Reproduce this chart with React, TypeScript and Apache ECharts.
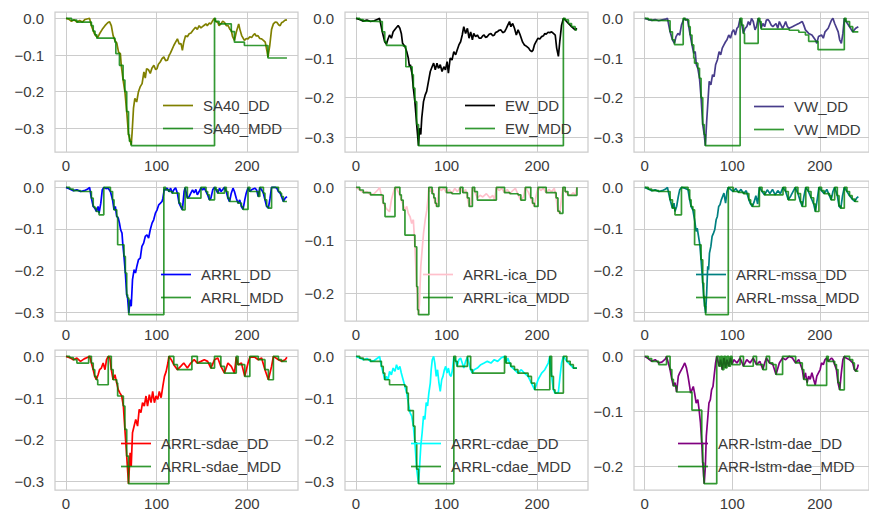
import React, { useEffect, useRef } from 'react';
import * as echarts from 'echarts';

type P = [number, number];

// ---------- data (x = period index, y = drawdown) ----------
const sa40DD: P[] = [[0,0],[3,-0.002],[6,-0.008],[9,-0.004],[12,-0.01],[15,-0.006],[18,-0.01],[21,-0.003],[24,-0.001],[26,0],[28,-0.02],[31,-0.04],[33,-0.048],[35,-0.052],[37,-0.042],[40,-0.03],[43,-0.02],[46,-0.012],[48,-0.009],[50,-0.02],[52,-0.047],[54,-0.06],[56,-0.067],[58,-0.092],[60,-0.096],[61,-0.128],[63,-0.168],[65,-0.2],[67,-0.254],[69,-0.317],[71,-0.335],[72,-0.345],[73,-0.31],[74.5,-0.245],[76,-0.218],[78,-0.228],[80,-0.2],[82,-0.186],[84,-0.178],[86,-0.146],[87.5,-0.163],[89,-0.137],[91,-0.14],[93,-0.15],[95,-0.135],[97,-0.128],[99,-0.14],[100.5,-0.137],[102,-0.125],[104,-0.119],[106,-0.11],[108,-0.105],[110,-0.115],[112,-0.114],[114,-0.1],[115,-0.096],[117,-0.085],[119,-0.074],[121,-0.065],[123,-0.056],[125,-0.07],[127,-0.069],[128.5,-0.087],[130,-0.065],[132,-0.047],[134,-0.05],[136,-0.042],[138,-0.04],[140,-0.033],[143,-0.024],[145,-0.03],[147,-0.02],[149,-0.026],[151,-0.022],[153,-0.018],[154.5,-0.015],[156,-0.02],[158,-0.013],[160,-0.015],[162,-0.006],[164,0],[165,-0.008],[167.6,-0.011],[169,-0.02],[171,-0.015],[173,-0.008],[175,-0.011],[177,-0.02],[179,-0.02],[181,-0.03],[182.5,-0.033],[184,-0.05],[186,-0.06],[188,-0.038],[190.7,-0.015],[192,-0.03],[194,-0.047],[197,-0.06],[199,-0.055],[201,-0.056],[203,-0.05],[205,-0.052],[207,-0.045],[208.5,-0.042],[210,-0.048],[212,-0.047],[214,-0.055],[216,-0.056],[218,-0.06],[220,-0.065],[222,-0.09],[223,-0.106],[225,-0.074],[227,-0.03],[229,-0.015],[231,-0.01],[233,-0.011],[235,-0.018],[236.5,-0.02],[238,-0.012],[240,-0.009],[242,-0.005],[244,-0.004]];
const sa40MDD: P[] = [[0,0],[6,-0.005],[12,-0.01],[28,-0.02],[30,-0.035],[32,-0.045],[34,-0.054],[52,-0.054],[54,-0.065],[55,-0.096],[59,-0.128],[63,-0.168],[65,-0.2],[67,-0.254],[69,-0.317],[70,-0.335],[72,-0.347],[164,0],[165,-0.008],[169,-0.015],[182.5,-0.036],[186,-0.065],[197,-0.074],[223,-0.108],[244,-0.108]];

const ewDD: P[] = [[0,0],[4,-0.003],[8,-0.007],[12,-0.004],[16,-0.008],[20,-0.006],[24,-0.002],[26,0],[29,-0.034],[31.7,-0.059],[33.5,-0.065],[35,-0.054],[37,-0.042],[39,-0.05],[41,-0.034],[44,-0.025],[46.5,-0.018],[48.4,-0.025],[50,-0.038],[51.4,-0.063],[54,-0.071],[56,-0.084],[57.7,-0.1],[59,-0.122],[60,-0.117],[62,-0.142],[63.3,-0.176],[65,-0.21],[67,-0.268],[69,-0.321],[70,-0.277],[71.5,-0.293],[72.6,-0.251],[74.5,-0.21],[76.4,-0.193],[78,-0.184],[80,-0.159],[82,-0.134],[84,-0.122],[85.7,-0.113],[87.5,-0.13],[89.4,-0.113],[91,-0.126],[93,-0.117],[95,-0.134],[97,-0.122],[98.7,-0.13],[100.6,-0.109],[102,-0.138],[104,-0.1],[106,-0.105],[108,-0.084],[110,-0.092],[111.7,-0.08],[113.6,-0.067],[115.5,-0.059],[117.3,-0.042],[119,-0.021],[121,-0.038],[123,-0.025],[124.8,-0.05],[126.6,-0.034],[128.5,-0.054],[130,-0.038],[132,-0.046],[134,-0.042],[136,-0.05],[138,-0.05],[140,-0.044],[141.5,-0.042],[143,-0.048],[145,-0.046],[147,-0.04],[149,-0.038],[151,-0.044],[152.7,-0.042],[154,-0.036],[156,-0.034],[158,-0.03],[160,-0.029],[162,-0.036],[164,-0.034],[166,-0.025],[167.6,-0.017],[169.5,-0.008],[171,-0.021],[173,-0.013],[175,-0.025],[177,-0.042],[179,-0.029],[181,-0.04],[182.5,-0.05],[184,-0.06],[186,-0.067],[188,-0.07],[190.7,-0.075],[192,-0.08],[194,-0.084],[195.5,-0.08],[197,-0.067],[199,-0.058],[201,-0.05],[203,-0.052],[205,-0.046],[207,-0.044],[208.5,-0.038],[210,-0.04],[212,-0.035],[214,-0.036],[216,-0.034],[218,-0.038],[220,-0.042],[221.6,-0.075],[223.5,-0.096],[225,-0.059],[227,-0.017],[229,0],[231,-0.004],[234.6,-0.013],[238,-0.021],[242,-0.029],[244,-0.025]];
const ewMDD: P[] = [[0,0],[4,-0.003],[8,-0.007],[16,-0.008],[29,-0.034],[31.7,-0.059],[33.5,-0.068],[52,-0.07],[55,-0.122],[62,-0.142],[63.3,-0.176],[65,-0.21],[67,-0.268],[69,-0.321],[229,0],[231,-0.004],[234.6,-0.013],[238,-0.021],[242,-0.029],[244,-0.029]];

const vwDD: P[] = [[0,0],[4,-0.003],[8,-0.005],[12,-0.003],[16,-0.006],[20,-0.004],[24,-0.002],[26,0],[29,-0.034],[31.7,-0.054],[34,-0.063],[35.8,-0.046],[38,-0.038],[40,-0.042],[42,-0.017],[45,0],[46.5,-0.004],[48.8,-0.002],[50.3,-0.021],[52,-0.042],[54,-0.067],[56,-0.088],[57.7,-0.084],[59,-0.117],[60.7,-0.126],[62.6,-0.151],[64.4,-0.2],[66.3,-0.268],[68,-0.293],[69.3,-0.321],[70.8,-0.26],[72,-0.218],[73.7,-0.159],[75.6,-0.168],[77.5,-0.142],[79.3,-0.147],[81,-0.117],[83,-0.105],[85,-0.084],[86.8,-0.092],[88.6,-0.075],[90.5,-0.067],[92.4,-0.059],[94,-0.054],[96,-0.042],[98,-0.05],[100,-0.034],[101.7,-0.029],[103.5,-0.042],[105.4,-0.025],[107,-0.021],[109,0],[111,-0.017],[112.8,-0.038],[114.7,-0.025],[116.6,-0.021],[118.4,-0.008],[120.3,-0.017],[122,0],[124,-0.008],[126,-0.029],[127.7,-0.021],[129.6,0],[131.5,-0.008],[133,-0.025],[135,-0.013],[137,-0.021],[139,-0.004],[140.8,-0.003],[142.6,-0.008],[144.5,-0.017],[146.4,-0.021],[150,-0.013],[152,-0.025],[153.8,-0.008],[157.5,-0.025],[159.4,-0.017],[161,-0.008],[163,-0.021],[165,-0.025],[168.7,-0.021],[172.4,-0.017],[176,-0.013],[180,-0.008],[181.7,-0.017],[183.6,-0.029],[187.3,-0.038],[191,-0.042],[194.8,-0.054],[196.6,-0.063],[198.5,-0.046],[202,-0.042],[204,-0.05],[206,-0.034],[209.6,-0.025],[213.4,-0.004],[215,0],[217,-0.013],[221,-0.034],[222.7,-0.054],[224.6,-0.063],[226.4,-0.038],[228,0],[230,-0.008],[234,-0.021],[237.6,-0.034],[241,-0.025],[244,-0.021]];
const vwMDD: P[] = [[0,0],[4,-0.003],[8,-0.005],[16,-0.006],[29,-0.034],[31.7,-0.054],[34,-0.066],[44,0],[46.5,-0.004],[50.3,-0.021],[52,-0.042],[54,-0.067],[56,-0.1],[57,-0.113],[60.7,-0.126],[62.6,-0.151],[64.4,-0.2],[66.3,-0.268],[68,-0.293],[69.3,-0.321],[109,0],[111,-0.017],[112.8,-0.038],[114,-0.063],[129.6,0],[131.5,-0.008],[133,-0.027],[165,-0.03],[176,-0.035],[183.6,-0.042],[187.3,-0.058],[198,-0.079],[228,0],[230,-0.008],[234,-0.021],[237.6,-0.034],[244,-0.034]];

const arrlDD: P[] = [[0,0],[4,-0.004],[8,-0.008],[12,-0.006],[16,-0.01],[20,-0.008],[24,-0.004],[26,0],[28,-0.026],[30,-0.046],[31.7,-0.05],[33.5,-0.058],[35.4,-0.046],[36.5,-0.062],[38.4,-0.038],[40,-0.006],[41.7,0],[44,-0.003],[46.5,-0.002],[49,-0.01],[51.4,-0.03],[53,-0.054],[54.4,-0.046],[56,-0.07],[57.7,-0.074],[59,-0.086],[60.3,-0.102],[61.8,-0.11],[62.6,-0.134],[64,-0.166],[65.5,-0.206],[67,-0.258],[68,-0.266],[69.3,-0.302],[70.8,-0.27],[72,-0.286],[73.4,-0.222],[75.2,-0.198],[76.7,-0.206],[78.2,-0.19],[80,-0.174],[82,-0.17],[83.8,-0.142],[85.7,-0.134],[87.5,-0.118],[89.4,-0.114],[91.2,-0.122],[93,-0.102],[95,-0.086],[96.8,-0.078],[98.7,-0.062],[100.6,-0.054],[102.4,-0.042],[104.3,-0.038],[106,-0.034],[107,-0.026],[108.5,-0.004],[110,-0.006],[111.7,-0.002],[113.6,-0.01],[115.5,-0.002],[117.3,-0.014],[119,-0.006],[121,-0.001],[123,-0.014],[124.8,-0.038],[126.6,-0.046],[128.5,-0.054],[130.4,-0.01],[131.5,-0.001],[134,-0.026],[136,-0.022],[137.8,-0.014],[139.7,-0.006],[141.5,-0.013],[143.4,-0.005],[145,-0.018],[147,-0.01],[149,-0.001],[150.8,-0.006],[152.7,-0.002],[154.6,-0.01],[156.4,-0.018],[158.3,-0.03],[160,-0.026],[162,-0.006],[164,0],[165.7,-0.006],[167.6,-0.014],[169.5,-0.002],[171.3,-0.01],[173,-0.005],[175,0],[177,-0.01],[178.8,-0.026],[180.6,-0.034],[182.5,-0.014],[184.4,-0.002],[186,-0.01],[188,-0.026],[190,-0.038],[191.8,-0.03],[193.7,-0.046],[195.5,-0.053],[197.4,-0.03],[199,-0.014],[201,-0.001],[203,-0.01],[204.8,-0.006],[208.5,-0.002],[210.4,-0.006],[212.3,-0.022],[214,0],[216,-0.006],[218,-0.014],[219.7,-0.03],[221.6,-0.046],[223.5,-0.05],[225.3,-0.026],[227,0],[231,0],[232.8,-0.002],[234.6,-0.01],[236.5,-0.014],[238,-0.022],[240,-0.034],[242,-0.026],[244,-0.022]];
const arrlMDD: P[] = [[0,0],[4,-0.004],[8,-0.008],[16,-0.01],[28,-0.026],[30,-0.046],[31.7,-0.05],[33.5,-0.058],[36.5,-0.066],[41.7,0],[49,-0.01],[51.4,-0.03],[53,-0.054],[56,-0.07],[57,-0.138],[64,-0.166],[65.5,-0.206],[67,-0.258],[68,-0.266],[69.3,-0.306],[108,0],[110,-0.006],[113.6,-0.01],[117.3,-0.014],[124.8,-0.038],[126.6,-0.046],[128.5,-0.054],[131.5,0],[134,-0.026],[149,0],[154.6,-0.01],[156.4,-0.018],[158.3,-0.03],[164,0],[165.7,-0.006],[167.6,-0.014],[175,0],[177,-0.01],[178.8,-0.026],[180.6,-0.034],[190,-0.038],[193.7,-0.046],[195.5,-0.053],[201,0],[203,-0.01],[212.3,-0.022],[214,0],[218,-0.014],[219.7,-0.03],[221.6,-0.046],[223.5,-0.05],[227,0],[234.6,-0.01],[236.5,-0.014],[238,-0.022],[240,-0.034],[244,-0.034]];

const icaDD: P[] = [[0,0],[4,-0.005],[8,-0.01],[12,-0.008],[16,-0.014],[20,-0.012],[24,-0.005],[26,0],[28,-0.015],[30,-0.03],[33.5,-0.04],[37,-0.046],[39,-0.024],[41,-0.011],[43,0],[44.7,-0.002],[48.4,-0.014],[50,-0.024],[52,-0.033],[54,-0.043],[56,-0.036],[57.7,-0.049],[59.6,-0.055],[61.5,-0.068],[63.3,-0.061],[65,-0.112],[67,-0.187],[68,-0.209],[69,-0.24],[70,-0.22],[71.5,-0.149],[73,-0.118],[74.5,-0.087],[76.4,-0.061],[78.2,-0.043],[79.3,-0.024],[80.4,0],[82,-0.008],[83,-0.002],[84,-0.012],[85,-0.004],[86,-0.02],[87.5,-0.03],[89,-0.036],[90.5,-0.02],[91.5,0],[94,-0.006],[97,-0.002],[100,-0.01],[103,-0.004],[106,-0.012],[109,-0.002],[112,-0.008],[115,0],[118,-0.01],[121,-0.004],[123,-0.02],[125,-0.036],[127,-0.03],[128.5,0],[131,-0.008],[134,-0.02],[137,-0.015],[140,-0.018],[144,-0.012],[148,-0.02],[151,-0.015],[153,-0.024],[155,0],[158,-0.006],[161,-0.002],[164,-0.01],[167,-0.004],[170,-0.012],[173,-0.006],[176,-0.002],[179,-0.014],[182,-0.024],[185,-0.018],[187,0],[190,-0.008],[193,-0.02],[195,-0.03],[197,-0.036],[199,-0.015],[201,0],[204,-0.006],[207,-0.002],[210,-0.01],[213,-0.004],[216,-0.008],[219,-0.002],[221,-0.02],[223,-0.045],[225,-0.049],[227,-0.02],[228.5,0],[231,-0.008],[234,-0.013],[237,-0.015],[240,-0.01],[242,-0.015],[244,0]];
const icaMDD: P[] = [[0,0],[4,-0.005],[8,-0.01],[16,-0.014],[28,-0.015],[30,-0.03],[32,-0.055],[43,0],[48.4,-0.014],[50,-0.024],[52,-0.043],[54,-0.09],[65,-0.112],[67,-0.187],[68,-0.231],[69,-0.24],[80.4,0],[84,-0.012],[86,-0.02],[87.5,-0.03],[89,-0.036],[91.5,0],[100,-0.01],[106,-0.012],[115,0],[118,-0.01],[123,-0.02],[125,-0.036],[128.5,0],[131,-0.008],[134,-0.024],[155,0],[164,-0.01],[170,-0.012],[179,-0.014],[182,-0.024],[187,0],[193,-0.02],[195,-0.03],[197,-0.036],[201,0],[210,-0.01],[221,-0.02],[223,-0.045],[225,-0.049],[228.5,0],[231,-0.008],[234,-0.015],[244,0]];

const mssaDD: P[] = [[0,0],[4,-0.004],[8,-0.008],[12,-0.006],[16,-0.01],[20,-0.008],[24,-0.004],[26,0],[29,-0.03],[31.7,-0.05],[33.5,-0.038],[34.6,-0.058],[36.5,-0.046],[38.4,-0.022],[40,-0.006],[42,0],[45.8,-0.002],[49.5,-0.006],[51.4,-0.03],[53,-0.046],[55,-0.054],[57,-0.078],[58.8,-0.106],[60,-0.098],[61.5,-0.118],[63,-0.138],[64.4,-0.174],[66.3,-0.23],[67.4,-0.262],[68.5,-0.286],[69.6,-0.302],[70.8,-0.254],[72,-0.19],[73,-0.198],[74,-0.158],[75.6,-0.142],[77,-0.118],[78.6,-0.11],[80,-0.102],[81.6,-0.078],[83,-0.07],[84.5,-0.046],[86,-0.042],[87.5,-0.03],[89,-0.022],[90.5,-0.014],[92.4,-0.038],[94,-0.01],[95.5,0],[98,-0.005],[101,-0.01],[104,-0.003],[107,-0.012],[110,-0.005],[113,-0.015],[116,-0.008],[119,-0.03],[121,-0.04],[123,-0.046],[125,-0.035],[127,-0.02],[129,-0.04],[131,0],[134,-0.01],[137,-0.018],[140,-0.006],[143,-0.015],[146,-0.005],[149,-0.018],[152,-0.008],[155,-0.015],[158,0],[161,-0.01],[164,-0.03],[167,-0.02],[170,-0.008],[172,0],[175,-0.015],[178,-0.035],[180,-0.046],[182,-0.02],[184,0],[187,-0.01],[190,-0.025],[193,-0.04],[195,-0.058],[197,-0.03],[199,0],[202,-0.008],[205,-0.015],[208,-0.005],[211,-0.02],[213,-0.03],[215,-0.01],[217,0],[220,-0.02],[222,-0.045],[224,-0.05],[226,-0.02],[228,0],[231,-0.01],[234,-0.02],[237,-0.028],[240,-0.034],[242,-0.026],[244,-0.022]];
const mssaMDD: P[] = [[0,0],[4,-0.004],[8,-0.008],[16,-0.01],[29,-0.03],[31.7,-0.05],[34.6,-0.066],[42,0],[49.5,-0.006],[51.4,-0.03],[53,-0.046],[55,-0.054],[57,-0.138],[64.4,-0.174],[66.3,-0.23],[67.4,-0.262],[68.5,-0.286],[69.6,-0.306],[95.5,0],[101,-0.01],[107,-0.012],[113,-0.015],[119,-0.03],[121,-0.04],[123,-0.046],[131,0],[134,-0.01],[137,-0.018],[158,0],[161,-0.01],[164,-0.03],[172,0],[175,-0.015],[178,-0.035],[180,-0.046],[184,0],[187,-0.01],[190,-0.025],[193,-0.04],[195,-0.058],[199,0],[202,-0.008],[205,-0.015],[211,-0.02],[213,-0.03],[217,0],[220,-0.02],[222,-0.045],[224,-0.05],[228,0],[231,-0.01],[234,-0.02],[237,-0.028],[240,-0.034],[244,-0.034]];

const sdaeDD: P[] = [[0,0],[4,-0.003],[8,-0.008],[12,-0.004],[16,-0.012],[20,-0.006],[24,-0.002],[26,0],[28,-0.016],[30,-0.032],[31.7,-0.048],[33.5,-0.056],[35.4,-0.044],[37,-0.032],[39,-0.028],[41,-0.016],[43,-0.032],[44.7,-0.008],[46.6,0],[48.4,-0.004],[50,-0.032],[52,-0.056],[54,-0.044],[56,-0.064],[57.7,-0.08],[59.6,-0.088],[61.5,-0.095],[63.3,-0.119],[65,-0.175],[67,-0.239],[69,-0.305],[70.8,-0.231],[72,-0.263],[73.4,-0.183],[75.2,-0.167],[77,-0.151],[79,-0.167],[80.8,-0.127],[82.7,-0.135],[84.5,-0.111],[86.4,-0.119],[88.3,-0.095],[90,-0.119],[92,-0.092],[93.9,-0.111],[95.7,-0.084],[97.6,-0.111],[99.4,-0.095],[101.3,-0.103],[103,-0.084],[105,-0.099],[106.9,-0.072],[108.7,-0.048],[110.6,-0.036],[112.5,-0.016],[113.6,0],[116.2,-0.008],[119,-0.02],[123,-0.032],[126.6,-0.024],[130,-0.016],[134,-0.028],[137.8,-0.016],[141.5,-0.008],[145,-0.016],[149,-0.012],[152.7,-0.008],[156.4,-0.012],[160,-0.028],[164,-0.008],[167.6,-0.004],[171,-0.024],[175,-0.04],[178.8,-0.016],[182.5,-0.024],[186,-0.04],[188,-0.002],[190,-0.02],[193.7,-0.016],[197.4,-0.048],[201,-0.016],[203,-0.002],[208.5,-0.002],[212.3,-0.008],[216,-0.004],[219.7,-0.032],[223.5,-0.056],[227,-0.024],[229,0],[234.6,-0.008],[238,-0.012],[242,-0.008],[244,-0.002]];
const sdaeMDD: P[] = [[0,0],[4,-0.003],[8,-0.008],[12,-0.016],[25,0],[28,-0.016],[30,-0.032],[31.7,-0.048],[33.5,-0.056],[35,-0.068],[46.6,0],[50,-0.032],[52,-0.056],[56,-0.064],[57,-0.095],[63.3,-0.119],[65,-0.175],[67,-0.239],[69,-0.305],[113.6,0],[119,-0.02],[123,-0.032],[139,0],[145,-0.016],[160,-0.028],[164,0],[171,-0.024],[175,-0.04],[188,0],[190,-0.02],[197.4,-0.048],[203,0],[212.3,-0.008],[219.7,-0.032],[223.5,-0.056],[229,0],[234.6,-0.008],[238,-0.012],[244,-0.012]];

const cdaeDD: P[] = [[0,0],[4,-0.004],[8,-0.008],[12,-0.005],[16,-0.012],[20,-0.01],[24,-0.004],[26,0],[28,-0.024],[30,-0.04],[31.7,-0.056],[33.5,-0.048],[35.4,-0.056],[37,-0.036],[39,-0.044],[41,-0.028],[43,-0.036],[44.7,-0.02],[46.6,-0.032],[48.4,-0.024],[50,-0.04],[52,-0.056],[54,-0.072],[56,-0.088],[57.7,-0.111],[59.6,-0.135],[61.5,-0.143],[63.3,-0.167],[65,-0.207],[67,-0.27],[69,-0.305],[70,-0.271],[71.5,-0.215],[73,-0.183],[74.5,-0.143],[76,-0.151],[77.5,-0.111],[79,-0.119],[80.4,-0.088],[82,-0.064],[83,-0.032],[84.2,-0.008],[85.7,0],[87,-0.016],[88.6,-0.048],[90,-0.032],[91.6,-0.064],[93,-0.084],[94.6,-0.056],[96,-0.048],[97.6,-0.032],[99,-0.024],[100.6,-0.04],[102,-0.028],[103.5,-0.044],[105,-0.048],[106.5,-0.032],[108,-0.002],[110,-0.012],[111.7,-0.024],[113.6,-0.008],[115.5,-0.004],[117.3,-0.016],[119,-0.028],[121,-0.012],[123,-0.002],[126.6,-0.032],[128.5,-0.04],[130.4,-0.032],[134,-0.028],[137.8,-0.02],[141.5,-0.016],[145,-0.012],[149,-0.016],[152.7,-0.008],[156.4,-0.012],[160,-0.004],[164,0],[165.7,-0.016],[167.6,-0.004],[171,-0.024],[175,-0.032],[178.8,-0.04],[182.5,-0.032],[186,-0.04],[190,-0.048],[193.7,-0.064],[197.4,-0.08],[201,-0.056],[205,-0.04],[208.5,-0.032],[212.3,-0.016],[214,0],[216,-0.048],[218,-0.08],[219.7,-0.088],[223.5,-0.086],[225.3,-0.048],[227,-0.016],[229,0],[232.8,-0.012],[236.5,-0.02],[240,-0.028],[244,-0.028]];
const cdaeMDD: P[] = [[0,0],[4,-0.004],[8,-0.008],[16,-0.012],[28,-0.024],[30,-0.04],[31.7,-0.056],[37,-0.068],[54,-0.072],[56,-0.088],[57.7,-0.13],[63.3,-0.167],[65,-0.207],[67,-0.27],[69,-0.305],[108,0],[110,-0.012],[111.7,-0.024],[123,0],[126.6,-0.032],[128.5,-0.04],[164,0],[165.7,-0.016],[171,-0.024],[175,-0.032],[178.8,-0.04],[190,-0.048],[193.7,-0.064],[197.4,-0.08],[214,0],[216,-0.048],[218,-0.08],[219.7,-0.088],[229,0],[232.8,-0.012],[236.5,-0.02],[240,-0.028],[244,-0.028]];

const lstmDD: P[] = [[0,0],[4,-0.004],[8,-0.009],[12,-0.006],[16,-0.012],[20,-0.01],[24,-0.004],[25,0],[29,-0.024],[31,-0.042],[32.8,-0.054],[34.6,-0.048],[36.5,-0.065],[38.4,-0.036],[40,-0.03],[42,-0.024],[44,-0.018],[45.8,-0.012],[47.7,-0.021],[49.5,-0.036],[51.4,-0.055],[52.5,-0.067],[54,-0.061],[55.5,-0.055],[57,-0.067],[58.8,-0.085],[60.7,-0.079],[62.2,-0.098],[63.7,-0.121],[65.2,-0.158],[66.3,-0.194],[67.4,-0.218],[68,-0.232],[69.3,-0.2],[70.4,-0.145],[71.9,-0.115],[73.4,-0.085],[75,-0.079],[76.4,-0.061],[78,-0.055],[79.3,-0.036],[81,-0.012],[82.3,0],[85,-0.018],[86.8,-0.006],[88.6,-0.024],[90.5,-0.003],[92.4,-0.021],[94,-0.006],[96,-0.018],[98,-0.003],[99.8,-0.015],[101.7,-0.006],[105.4,-0.012],[109,-0.003],[112.8,-0.018],[116.6,-0.006],[120.3,-0.012],[124,-0.003],[127.7,-0.015],[131.5,-0.009],[135,-0.024],[137,-0.012],[139,-0.003],[142.6,-0.012],[146.4,-0.015],[150,-0.033],[153.8,-0.012],[157.5,-0.003],[161,-0.006],[165,0],[168.7,-0.003],[172.4,-0.012],[176,-0.006],[180,-0.024],[181.7,-0.042],[183.6,-0.03],[185.5,-0.048],[187.3,-0.036],[189,-0.042],[191,-0.03],[193,-0.042],[194.8,-0.052],[196.6,-0.036],[198.5,-0.03],[200.4,-0.024],[202,-0.012],[204,-0.015],[206,-0.006],[207.8,-0.003],[209.6,-0.009],[213.4,-0.003],[215,-0.006],[217,-0.015],[219,-0.024],[220.8,-0.048],[222.7,-0.061],[224.6,-0.03],[226.4,-0.006],[228,0],[230,-0.003],[234,-0.006],[237.6,-0.012],[239.5,-0.024],[241,-0.027],[243,-0.021],[244,-0.015]];
const lstmMDD: P[] = [[0,0],[4,-0.004],[8,-0.009],[16,-0.015],[25,0],[29,-0.024],[31,-0.042],[32.8,-0.054],[36.5,-0.065],[54,-0.098],[65.2,-0.158],[66.3,-0.194],[67.4,-0.218],[68,-0.232],[82.3,0],[85,-0.018],[86.8,0],[88.6,-0.024],[90.5,0],[92.4,-0.021],[94,0],[96,-0.018],[98,0],[99.8,-0.015],[109,0],[112.8,-0.018],[124,0],[127.7,-0.015],[135,-0.024],[139,0],[142.6,-0.012],[146.4,-0.015],[150,-0.033],[157.5,0],[172.4,-0.012],[180,-0.024],[181.7,-0.042],[185.5,-0.053],[207.8,0],[209.6,-0.009],[217,-0.015],[219,-0.024],[220.8,-0.048],[222.7,-0.061],[228,0],[234,-0.006],[237.6,-0.012],[239.5,-0.024],[241,-0.027],[244,-0.027]];

const ddNames = ['SA40_DD', 'EW_DD', 'VW_DD', 'ARRL_DD', 'ARRL-ica_DD', 'ARRL-mssa_DD', 'ARRL-sdae_DD', 'ARRL-cdae_DD', 'ARR-lstm-dae_DD'];
const mddNames = ['SA40_MDD', 'EW_MDD', 'VW_MDD', 'ARRL_MDD', 'ARRL-ica_MDD', 'ARRL-mssa_MDD', 'ARRL-sdae_MDD', 'ARRL-cdae_MDD', 'ARR-lstm-dae_MDD'];
const ddSeries = [sa40DD, ewDD, vwDD, arrlDD, icaDD, mssaDD, sdaeDD, cdaeDD, lstmDD];
const mddSeries = [sa40MDD, ewMDD, vwMDD, arrlMDD, icaMDD, mssaMDD, sdaeMDD, cdaeMDD, lstmMDD];
const xTicks = [0, 100, 200];

// ---------- styling / layout ----------
const ddColors = ['#808000', '#000000', '#483d8b', '#0000ff', '#ffc0cb', '#008080', '#ff0000', '#00ffff', '#800080'];
const mddColor = 'rgba(0,128,0,0.8)';
const colLeft = [55, 345, 634];
const rowTop = [12, 181, 350];
const plotW = 243;
const plotH = 140;
const legendLeft = [163, 465, 754, 161, 423, 696, 121, 411, 678];
const legendTop = [94, 94, 95, 263, 263, 263, 432, 432, 432];
const FONT = "'Liberation Sans', Arial, sans-serif";
const TEXT = '#3a3a3a';
const GRIDC = '#cccccc';

function toSteps(pts: P[]): P[] {
  const out: P[] = [pts[0]];
  for (let i = 1; i < pts.length; i++) {
    out.push([pts[i][0], pts[i - 1][1]]);
    out.push(pts[i]);
  }
  return out;
}

function fmtY(v: number): string {
  if (Math.abs(v) < 1e-9) return '0.0';
  return (v < 0 ? '\u2212' : '') + Math.abs(v).toFixed(1);
}

export default function App() {
  const ref = useRef<HTMLDivElement>(null);
  useEffect(() => {
    document.body.style.margin = '0';
    if (!ref.current) return;
    const chart = echarts.init(ref.current, undefined, { renderer: 'svg' });

    const grids: any[] = [];
    const xAxes: any[] = [];
    const yAxes: any[] = [];
    const series: any[] = [];
    const legends: any[] = [];

    for (let i = 0; i < 9; i++) {
      const r = Math.floor(i / 3);
      const c = i % 3;
      grids.push({
        left: colLeft[c], top: rowTop[r], width: plotW, height: plotH,
        show: true, borderColor: GRIDC, borderWidth: 1.25, backgroundColor: '#ffffff',
      });
      const allX = ddSeries[i].map((p) => p[0]);
      const xLo = Math.min(...allX);
      const xHi = Math.max(...allX);
      const xPad = (xHi - xLo) * 0.05;
      xAxes.push({
        type: 'value', gridIndex: i, min: xLo - xPad, max: xHi + xPad,
        axisLine: { show: false },
        axisTick: { show: false, customValues: xTicks },
        axisLabel: { customValues: xTicks, margin: 6, fontSize: 15, color: TEXT, fontFamily: FONT },
        splitLine: { show: true, lineStyle: { color: GRIDC, width: 1 } },
      });
      const allY = ddSeries[i].map((p) => p[1]).concat(mddSeries[i].map((p) => p[1]));
      const yLo = Math.min(...allY);
      const yHi = Math.max(...allY);
      const yPad = (yHi - yLo) * 0.05;
      const yTicks: number[] = [];
      for (let k = 0; -k * 0.1 >= yLo - yPad - 1e-9; k++) yTicks.push(-k / 10);
      yAxes.push({
        type: 'value', gridIndex: i, min: yLo - yPad, max: yHi + yPad,
        axisLine: { show: false },
        axisTick: { show: false, customValues: yTicks },
        axisLabel: { customValues: yTicks, margin: 11, fontSize: 15, color: TEXT, fontFamily: FONT, formatter: fmtY },
        splitLine: { show: true, lineStyle: { color: GRIDC, width: 1 } },
      });
      series.push({
        type: 'line', name: ddNames[i], xAxisIndex: i, yAxisIndex: i,
        data: ddSeries[i], showSymbol: false, symbol: 'none',
        lineStyle: { width: 1.7, color: ddColors[i] }, itemStyle: { color: ddColors[i] },
        z: 2,
      });
      series.push({
        type: 'line', name: mddNames[i], xAxisIndex: i, yAxisIndex: i,
        data: toSteps(mddSeries[i]), showSymbol: false, symbol: 'none',
        lineStyle: { width: 1.7, color: mddColor }, itemStyle: { color: mddColor },
        z: 3,
      });
      legends.push({
        data: [ddNames[i], mddNames[i]],
        orient: 'vertical', left: legendLeft[i], top: legendTop[i],
        padding: 0, itemGap: 0, itemWidth: 30, itemHeight: 1.7, icon: 'rect',
        selectedMode: false,
        textStyle: { fontSize: 15, color: TEXT, fontFamily: FONT, lineHeight: 23, padding: [0, 0, 0, 5] },
      });
    }

    chart.setOption({
      animation: false,
      backgroundColor: '#ffffff',
      grid: grids,
      xAxis: xAxes,
      yAxis: yAxes,
      legend: legends,
      series,
    });
    return () => chart.dispose();
  }, []);
  return <div ref={ref} style={{ width: 869, height: 514 }} />;
}
